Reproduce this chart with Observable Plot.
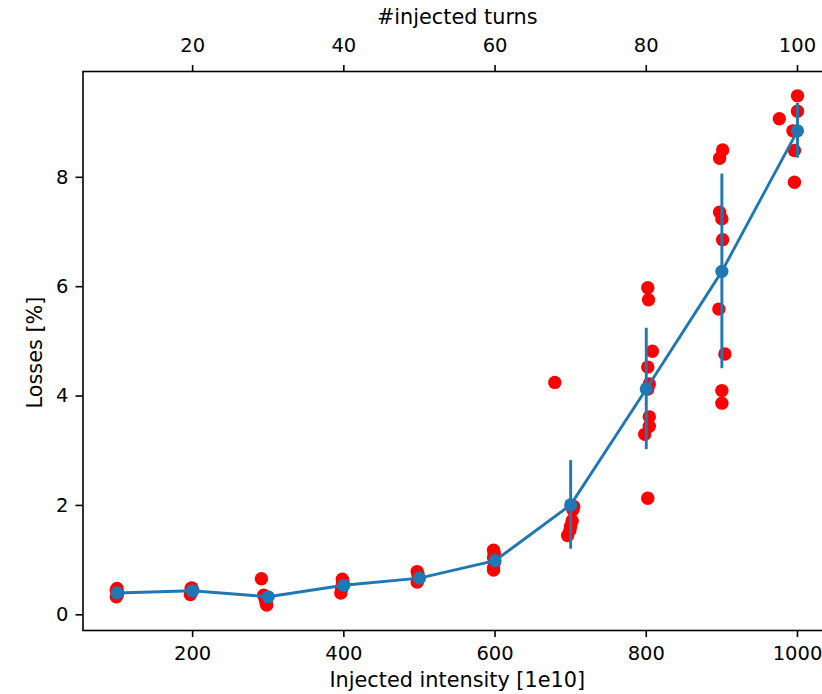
<!DOCTYPE html>
<html>
<head>
<meta charset="utf-8">
<script src="https://cdn.jsdelivr.net/npm/d3@7"></script>
<script src="https://cdn.jsdelivr.net/npm/@observablehq/plot@0.6"></script>
<style>
  html, body { margin: 0; padding: 0; background: #fff; overflow: hidden; width: 822px; height: 694px; }
  #chart svg { display: block; }
</style>
</head>
<body>
<div id="chart"></div>
<script>
// Individual measurements (red points)
const measIntensity = [
  99, 100, 101, 99, 100,
  197, 199, 200, 198, 199,
  291, 294, 296, 297, 298,
  396, 397, 398, 399, 398,
  497, 498, 499, 498, 497,
  598, 598, 599, 598, 599, 598,
  679, 704, 703, 702, 700, 699, 696,
  802, 803, 808, 802, 804, 802, 804, 804, 798, 802,
  901, 897, 897, 900, 901, 896, 904, 900, 900,
  1000, 1000, 976, 994, 996, 996
];
const measLoss = [
  0.33, 0.36, 0.40, 0.45, 0.48,
  0.37, 0.42, 0.45, 0.48, 0.49,
  0.66, 0.36, 0.29, 0.22, 0.18,
  0.40, 0.47, 0.55, 0.60, 0.65,
  0.60, 0.64, 0.68, 0.74, 0.79,
  0.82, 0.86, 0.95, 1.05, 1.12, 1.18,
  4.25, 1.98, 1.92, 1.72, 1.62, 1.55, 1.45,
  5.98, 5.76, 4.82, 4.53, 4.22, 4.13, 3.62, 3.45, 3.30, 2.13,
  8.50, 8.35, 7.36, 7.24, 6.86, 5.59, 4.77, 4.10, 3.87,
  9.49, 9.21, 9.07, 8.85, 8.49, 7.91
];

// Mean values with error bars (blue)
const meanIntensity = [100, 200, 300, 400, 500, 600, 700, 800, 900, 1000];
const meanLoss = [0.40, 0.44, 0.33, 0.54, 0.67, 0.99, 2.01, 4.13, 6.28, 8.85];
const meanErr = [0.05, 0.05, 0.05, 0.05, 0.05, 0.05, 0.81, 1.11, 1.78, 0.50];

// Tick labels
const intensityTicks = [200, 400, 600, 800, 1000];
const turnsTicks = [20, 40, 60, 80, 100];
const lossTicks = [0, 2, 4, 6, 8];

const meas = measIntensity.map((x, i) => ({x, y: measLoss[i]}));
const means = meanIntensity.map((x, i) => ({x, y: meanLoss[i], lo: meanLoss[i] - meanErr[i], hi: meanLoss[i] + meanErr[i]}));

const blue = "#1f77b4";
const fs = 19.5;   // tick labels
const lfs = 20.8;  // axis labels

const chart = Plot.plot({
  width: 822,
  height: 694,
  marginLeft: 82.5,
  marginRight: -9,
  marginTop: 71,
  marginBottom: 64,
  x: {domain: [55, 1045]},
  y: {domain: [-0.287, 9.935]},
  style: {fontFamily: "DejaVu Sans", fontSize: fs + "px", color: "#000", background: "#fff", overflow: "hidden"},
  marks: [
    Plot.dot(meas, {x: "x", y: "y", r: 6.7, fill: "#ff0000", stroke: "none"}),
    Plot.ruleX(means, {x: "x", y1: "lo", y2: "hi", stroke: blue, strokeWidth: 2.9}),
    Plot.line(means, {x: "x", y: "y", stroke: blue, strokeWidth: 2.9}),
    Plot.dot(means, {x: "x", y: "y", r: 6.6, fill: blue, stroke: "none"}),
    Plot.frame({stroke: "#000", strokeWidth: 1.6}),
    Plot.axisX(intensityTicks, {anchor: "bottom", tickSize: 7, tickPadding: 9, strokeWidth: 1.6, label: null, fontSize: fs, tickFormat: d => String(d)}),
    Plot.axisX(turnsTicks.map(t => t * 10), {anchor: "top", tickSize: 7, tickPadding: 12.4, strokeWidth: 1.6, label: null, fontSize: fs, tickFormat: d => String(turnsTicks[intensityTicks.indexOf(d)])}),
    Plot.axisY(lossTicks, {anchor: "left", tickSize: 7, tickPadding: 7.5, strokeWidth: 1.6, label: null, fontSize: fs, tickFormat: d => String(d)}),
    Plot.text(["Injected intensity [1e10]"], {frameAnchor: "bottom", textAnchor: "middle", lineAnchor: "middle", dy: 50.3, fontSize: lfs, fill: "#000"}),
    Plot.text(["#injected turns"], {frameAnchor: "top", textAnchor: "middle", lineAnchor: "middle", dy: -54.2, fontSize: lfs, fill: "#000"}),
    Plot.text(["Losses [%]"], {frameAnchor: "left", textAnchor: "middle", lineAnchor: "middle", dx: -47.5, dy: 1.5, rotate: -90, fontSize: lfs, fill: "#000"})
  ]
});
document.getElementById("chart").appendChild(chart);
</script>
</body>
</html>
